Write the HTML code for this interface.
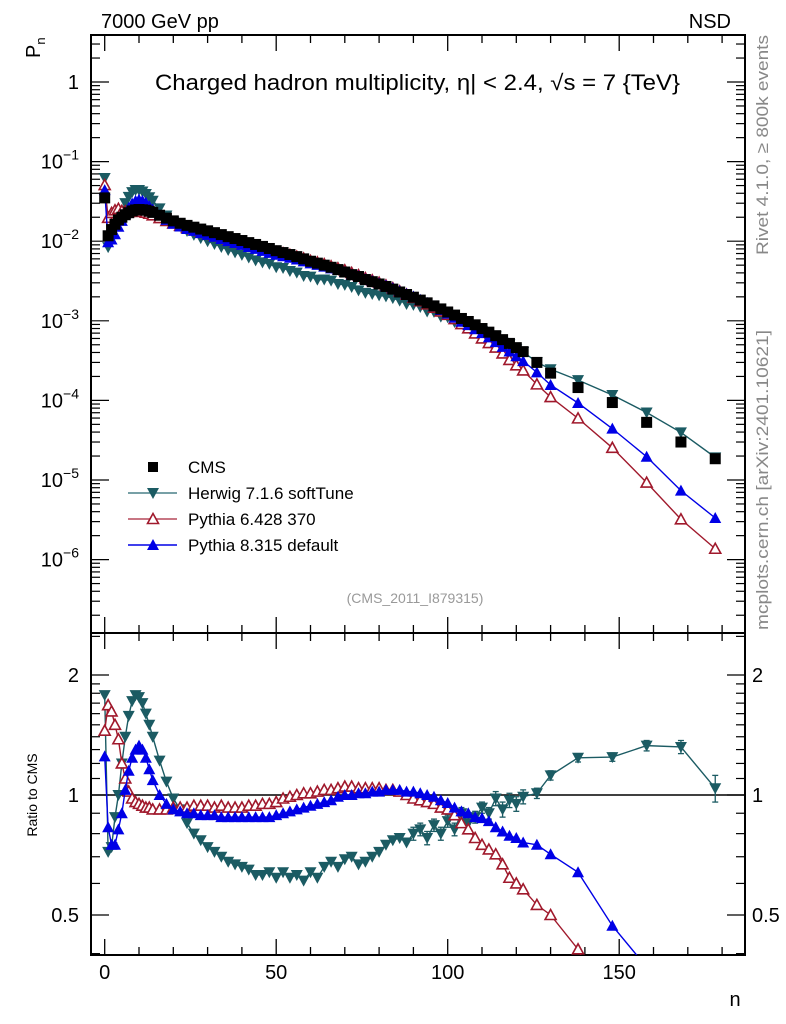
<!DOCTYPE html>
<html><head><meta charset="utf-8"><style>
html,body{margin:0;padding:0;background:#fff;overflow:hidden;width:786px;height:1024px;}
svg{display:block;font-family:"Liberation Sans",sans-serif;}
</style></head><body>
<svg id="chart" width="786" height="1024" viewBox="0 0 786 1024" xmlns="http://www.w3.org/2000/svg">
<text x="101" y="28" font-size="20">7000 GeV pp</text>
<text x="731" y="28" font-size="20" text-anchor="end">NSD</text>
<text transform="translate(40,58) rotate(-90)" font-size="20">P<tspan font-size="13" dy="5">n</tspan></text>
<text x="155" y="90" font-size="22" textLength="525" lengthAdjust="spacingAndGlyphs">Charged hadron multiplicity, η| &lt; 2.4, √s = 7 {TeV}</text>
<text transform="translate(768,255) rotate(-90)" font-size="17" fill="#888" textLength="220" lengthAdjust="spacingAndGlyphs">Rivet 4.1.0, ≥ 800k events</text>
<text transform="translate(768,630) rotate(-90)" font-size="17" fill="#888" textLength="300" lengthAdjust="spacingAndGlyphs">mcplots.cern.ch [arXiv:2401.10621]</text>
<text x="415" y="603" font-size="14" fill="#999" text-anchor="middle">(CMS_2011_I879315)</text>
<text transform="translate(37,795) rotate(-90)" font-size="14" text-anchor="middle">Ratio to CMS</text>
<text x="735" y="1006" font-size="20" text-anchor="middle">n</text>
<g id="main"></g>
</svg>
<script>
const nVals=[0,1,2,3,4,5,6,7,8,9,10,11,12,13,14,16,18,20,22,24,26,28,30,32,34,36,38,40,42,44,46,48,50,52,54,56,58,60,62,64,66,68,70,72,74,76,78,80,82,84,86,88,90,92,94,96,98,100,102,104,106,108,110,112,114,116,118,120,122,126,130,138,148,158,168,178];
const cmsVals=[0.035,0.0117,0.014,0.0163,0.0185,0.02,0.0215,0.0228,0.024,0.0247,0.025,0.0248,0.0245,0.0238,0.023,0.0212,0.0195,0.018,0.0168,0.0158,0.015,0.0142,0.0135,0.0128,0.0121,0.0114,0.0108,0.0102,0.0096,0.0091,0.0086,0.0081,0.0076,0.0072,0.0068,0.0064,0.006,0.0056,0.0053,0.005,0.0047,0.0044,0.0041,0.0038,0.0036,0.0033,0.0031,0.0029,0.0027,0.0025,0.0023,0.00214,0.00198,0.00182,0.00168,0.00154,0.00141,0.00129,0.00118,0.00107,0.00098,0.00089,0.0008,0.00072,0.00065,0.00058,0.00052,0.00046,0.00041,3.0e-4,2.2e-4,1.45e-4,9.4e-5,5.3e-5,3.0e-5,1.85e-5];
const herwigRatio=[1.78,0.72,0.74,0.88,1.0,1.2,1.4,1.58,1.72,1.78,1.76,1.7,1.6,1.5,1.4,1.22,1.08,0.98,0.92,0.85,0.8,0.77,0.74,0.72,0.7,0.68,0.67,0.66,0.65,0.63,0.63,0.64,0.62,0.64,0.62,0.63,0.61,0.64,0.62,0.66,0.68,0.66,0.69,0.7,0.67,0.68,0.7,0.72,0.75,0.77,0.78,0.76,0.8,0.82,0.78,0.84,0.8,0.86,0.82,0.9,0.85,0.88,0.93,0.9,0.98,0.92,0.97,0.95,0.99,1.01,1.12,1.24,1.245,1.33,1.32,1.04];
const py6Ratio=[1.45,1.68,1.62,1.5,1.38,1.2,1.1,1.02,0.98,0.96,0.95,0.94,0.93,0.93,0.92,0.92,0.92,0.93,0.93,0.93,0.94,0.94,0.94,0.93,0.94,0.93,0.93,0.93,0.94,0.94,0.95,0.95,0.96,0.98,0.99,1.0,1.01,1.01,1.02,1.03,1.03,1.04,1.05,1.05,1.04,1.04,1.04,1.04,1.03,1.03,1.02,1.0,0.98,0.97,0.96,0.95,0.93,0.92,0.89,0.85,0.82,0.78,0.75,0.73,0.71,0.67,0.62,0.6,0.58,0.53,0.5,0.41,0.27,0.175,0.107,0.074];
const py8Ratio=[1.25,0.83,0.75,0.75,0.82,0.9,1.03,1.15,1.24,1.3,1.33,1.3,1.24,1.16,1.09,1.0,0.95,0.92,0.91,0.9,0.9,0.89,0.89,0.89,0.88,0.88,0.88,0.88,0.88,0.88,0.88,0.88,0.89,0.9,0.91,0.92,0.93,0.94,0.95,0.96,0.97,0.99,1.0,1.0,1.01,1.01,1.02,1.02,1.03,1.03,1.03,1.02,1.02,1.01,1.0,0.99,0.97,0.955,0.93,0.91,0.9,0.88,0.875,0.86,0.83,0.81,0.79,0.78,0.76,0.75,0.71,0.64,0.47,0.37,0.245,0.18];
const herwigErr=[0,0,0,0,0,0,0,0,0,0,0,0,0,0,0,0,0,0,0,0,0,0,0,0,0,0,0,0,0,0,0,0,0,0,0,0,0,0,0,0,0,0,0,0,0,0,0,0,0,0,0,0,0.03,0.03,0.03,0.03,0.03,0.03,0.03,0.03,0.03,0.03,0.03,0.03,0.04,0.04,0.04,0.04,0.04,0.03,0.03,0.03,0.03,0.04,0.05,0.08];
const xTicks=[0,50,100,150];
const yTickExp=[0,-1,-2,-3,-4,-5,-6];
const rTicks=[2,1,0.5];

const NS='http://www.w3.org/2000/svg';
const L=91,R=745,T1=35,B1=633,B2=955;
const xS=n=>104.7+3.43*n;
const yS=p=>82-79.6*Math.log10(p);
const rS=r=>795-398.6*Math.log10(r);
const g=document.getElementById('main');
function mk(tag,attrs,parent){const e=document.createElementNS(NS,tag);for(const k in attrs)e.setAttribute(k,attrs[k]);(parent||g).appendChild(e);return e;}

const defs=mk('defs',{});
const c1=mk('clipPath',{id:'cp1'},defs);mk('rect',{x:L,y:T1,width:R-L,height:B1-T1},c1);
const c2=mk('clipPath',{id:'cp2'},defs);mk('rect',{x:L,y:B1,width:R-L,height:B2-B1},c2);

const f1=mk('rect',{x:L,y:T1,width:R-L,height:B1-T1,fill:'none',stroke:'#000','stroke-width':2});


const f2=mk('rect',{x:L,y:B1,width:R-L,height:B2-B1,fill:'none',stroke:'#000','stroke-width':2});



for(let n=0;n<=180;n+=10){
  const x=xS(n),maj=(n%50===0),len=maj?16:8;
  [[T1,1],[B1,-1],[B1,1],[B2,-1]].forEach(([y,d])=>mk('line',{x1:x,x2:x,y1:y,y2:y+d*len,stroke:'#000','stroke-width':1.3}));
}
xTicks.forEach(n=>{const t=mk('text',{x:xS(n),y:979,'font-size':20,'text-anchor':'middle'});t.textContent=n;

});

for(let e=1;e>=-7;e--){
  for(let m=1;m<10;m++){
    const y=yS(m*Math.pow(10,e)); if(y<T1||y>B1)continue;
    const len=m===1?18:9;
    mk('line',{x1:L,x2:L+len,y1:y,y2:y,stroke:'#000','stroke-width':1.2});
    mk('line',{x1:R,x2:R-len,y1:y,y2:y,stroke:'#000','stroke-width':1.2});
  }
}
yTickExp.forEach(e=>{
  const t=mk('text',{x:79,y:yS(Math.pow(10,e))+7,'font-size':20,'text-anchor':'end'});
  
  
  if(e===0)t.textContent='1';else{t.textContent='10';const s=mk('tspan',{dy:-9,'font-size':14},t);s.textContent='−'+(-e);}
});
const rMinor=[0.4,0.5,0.6,0.7,0.8,0.9,1,2,1.1,1.2,1.3,1.4,1.5,1.6,1.7,1.8,1.9,2.5];
rMinor.forEach(r=>{const y=rS(r);if(y<B1||y>B2)return;const len=(r===1||r===2||r===0.5)?18:9;
mk('line',{x1:L,x2:L+len,y1:y,y2:y,stroke:'#000','stroke-width':1.2});mk('line',{x1:R,x2:R-len,y1:y,y2:y,stroke:'#000','stroke-width':1.2});});
rTicks.forEach(r=>{
  const t=mk('text',{x:79,y:rS(r)+7,'font-size':20,'text-anchor':'end'});t.textContent=r;
  
  
  const t2=mk('text',{x:752,y:rS(r)+7,'font-size':20});t2.textContent=r;
  
  
});
const ref=mk('line',{x1:L,x2:R,y1:rS(1),y2:rS(1),stroke:'#000','stroke-width':1.5});



function marker(par,type,x,y,col){
  if(type==='sq')return mk('rect',{x:x-5.5,y:y-5.5,width:11,height:11,fill:col},par);
  if(type==='dn')return mk('polygon',{points:`${x-6},${y-5} ${x+6},${y-5} ${x},${y+6}`,fill:col},par);
  if(type==='up')return mk('polygon',{points:`${x-6},${y+5} ${x+6},${y+5} ${x},${y-6}`,fill:col},par);
  if(type==='upo')return mk('polygon',{points:`${x-5.5},${y+4.5} ${x+5.5},${y+4.5} ${x},${y-5.5}`,fill:'#fff',stroke:col,'stroke-width':1.6},par);
}
const series=[
 {name:'herwig',ratio:herwigRatio,col:'#1b5b63',type:'dn'},
 {name:'pythia6',ratio:py6Ratio,col:'#a0192c',type:'upo'},
 {name:'pythia8',ratio:py8Ratio,col:'#0000e6',type:'up'}
];
const gm=mk('g',{'clip-path':'url(#cp1)'});
const gr=mk('g',{'clip-path':'url(#cp2)'});
series.forEach(s=>{
  const pts=nVals.map((n,i)=>[xS(n),yS(cmsVals[i]*s.ratio[i])]);
  const pl=mk('polyline',{points:pts.map(p=>p.join(',')).join(' '),fill:'none',stroke:s.col,'stroke-width':1.4},gm);
  
  
  pts.forEach(p=>{const m=marker(gm,s.type,p[0],p[1],s.col);
    
    });
  const rp=nVals.map((n,i)=>[xS(n),rS(s.ratio[i])]);
  const rl=mk('polyline',{points:rp.map(p=>p.join(',')).join(' '),fill:'none',stroke:s.col,'stroke-width':1.4},gr);
  
  
  rp.forEach((p,i)=>{
    if(s.name==='herwig'&&herwigErr[i]>0){
      const r=s.ratio[i];
      mk('line',{x1:p[0],x2:p[0],y1:rS(r+herwigErr[i]),y2:rS(r-herwigErr[i]),stroke:s.col,'stroke-width':1.3},gr);
      mk('line',{x1:p[0]-3,x2:p[0]+3,y1:rS(r+herwigErr[i]),y2:rS(r+herwigErr[i]),stroke:s.col,'stroke-width':1.3},gr);
      mk('line',{x1:p[0]-3,x2:p[0]+3,y1:rS(r-herwigErr[i]),y2:rS(r-herwigErr[i]),stroke:s.col,'stroke-width':1.3},gr);
    }
    const m=marker(gr,s.type,p[0],p[1],s.col);
    
    });
});
nVals.forEach((n,i)=>{const m=marker(gm,'sq',xS(n),yS(cmsVals[i]),'#000');
  
  });

const legRows=[{label:'CMS',type:'sq',col:'#000',line:false},{label:'Herwig 7.1.6 softTune',type:'dn',col:'#1b5b63',line:true,lc:'#4a8088'},{label:'Pythia 6.428 370',type:'upo',col:'#a0192c',line:true,lc:'#b5485a'},{label:'Pythia 8.315 default',type:'up',col:'#0000e6',line:true,lc:'#0000e6'}];
legRows.forEach((r,i)=>{
  const y=467+i*26;
  const lg=mk('g',{});
  
  
  if(r.line)mk('line',{x1:128,x2:177,y1:y,y2:y,stroke:r.lc,'stroke-width':1.4},lg);
  if(r.type==='sq')mk('rect',{x:148,y:y-5,width:10,height:10,fill:'#000'},lg);else marker(lg,r.type,153,y,r.col);
  const t=mk('text',{x:188,y:y+6,'font-size':17},lg);t.textContent=r.label;
});
</script>
</body></html>
